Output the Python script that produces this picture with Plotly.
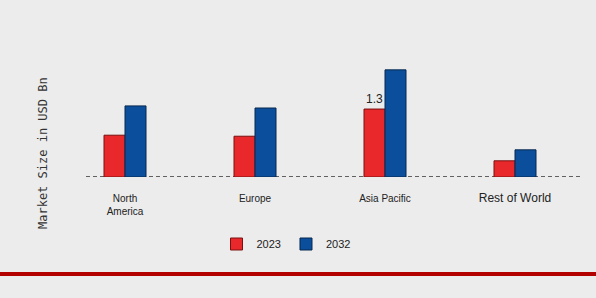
import plotly.graph_objects as go

regions = ["North America", "Europe", "Asia Pacific", "Rest of World"]
tick_labels = ["North<br>America", "Europe", "Asia Pacific",
               "<span style='font-size:12px'>Rest of World</span>"]
values_2023 = [0.80, 0.78, 1.30, 0.31]
values_2032 = [1.36, 1.32, 2.05, 0.52]
labels_2023 = ["", "", "1.3", ""]

fig = go.Figure()
fig.add_trace(go.Bar(
    name="2023", x=regions, y=values_2023,
    marker=dict(color="#e8282b", line=dict(color="#7a1010", width=1)),
    text=labels_2023, textposition="outside",
    textfont=dict(size=12, color="#222", family="Liberation Sans"),
    cliponaxis=False,
))
fig.add_trace(go.Bar(
    name="2032", x=regions, y=values_2032,
    marker=dict(color="#0b4f9c", line=dict(color="#06284f", width=1)),
    cliponaxis=False,
))

L, R, T, B = 60, 16, 50, 121
W, H = 596, 298
pw = W - L - R
ph = H - T - B

def px_x(x):
    return (x - L) / pw

def px_y(y):
    return (H - B - y) / ph

fig.update_layout(
    width=W, height=H,
    margin=dict(l=L, r=R, t=T, b=B),
    barmode="group", bargap=0.677, bargroupgap=0,
    paper_bgcolor="#ececec", plot_bgcolor="#ececec",
    font=dict(family="Liberation Sans", color="#222", size=10),
    showlegend=True,
    legend=dict(orientation="h", x=px_x(286), y=px_y(244), xanchor="center", yanchor="middle",
                font=dict(size=11, color="#222"), bgcolor="rgba(0,0,0,0)", itemwidth=30,
                traceorder="normal"),
    xaxis=dict(tickmode="array", tickvals=regions, ticktext=tick_labels,
               showgrid=False, showline=False, zeroline=False,
               ticks="outside", ticklen=12, tickcolor="rgba(0,0,0,0)",
               tickfont=dict(size=10, color="#222")),
    yaxis=dict(range=[0, 2.43], visible=False),
    shapes=[
        dict(type="line", xref="paper", yref="y", x0=px_x(86), x1=1, y0=0, y1=0,
             line=dict(color="#333", width=1.3, dash="4px,3px"), layer="below"),
        dict(type="line", xref="paper", yref="paper", x0=px_x(0), x1=px_x(W), y0=px_y(274), y1=px_y(274),
             line=dict(color="#b30000", width=4)),
    ],
    annotations=[
        dict(text="Market Size in USD Bn", xref="paper", yref="paper",
             x=px_x(43), y=px_y(153), textangle=-90, showarrow=False,
             font=dict(family="DejaVu Sans Mono", size=12, color="#333"),
             xanchor="center", yanchor="middle"),
    ],
)

fig.write_html("out.html")
